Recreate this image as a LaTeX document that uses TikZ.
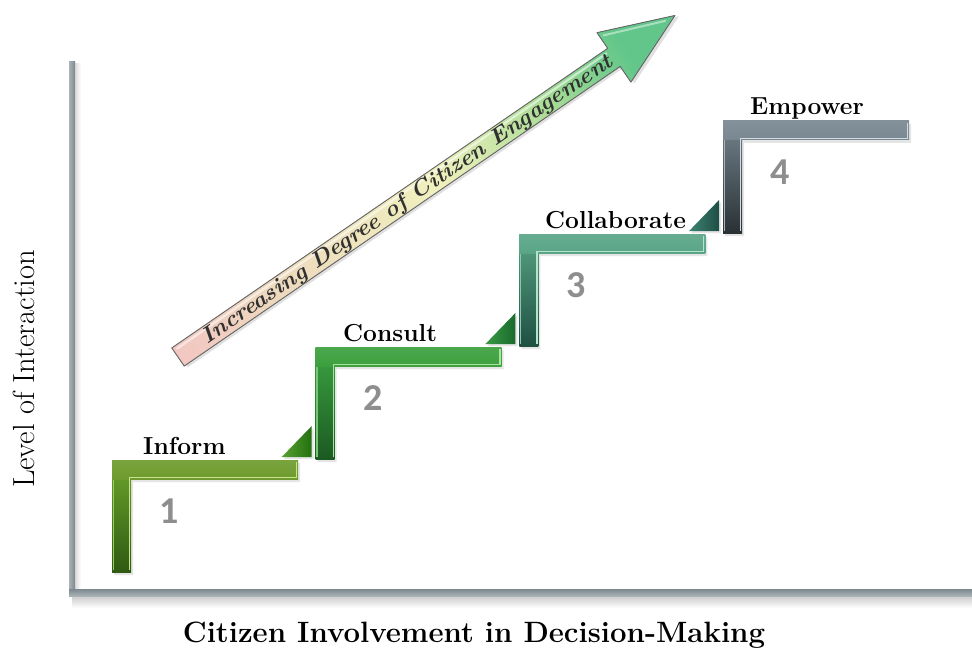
\documentclass[tikz,border=0pt]{standalone}
\usepackage{fontspec}
\newfontfamily\numfont{Carlito}
\usetikzlibrary{calc}
\definecolor{axc}{HTML}{8E989E}
\definecolor{axd}{HTML}{7C878E}
\definecolor{axl}{HTML}{A9B2B7}
% step colours
\definecolor{sAh}{HTML}{6E9B2D}\definecolor{sAt}{HTML}{6BA52C}\definecolor{sAb}{HTML}{2F5A12}\definecolor{sAl}{HTML}{C8E48C}
\definecolor{sBh}{HTML}{3CA03E}\definecolor{sBt}{HTML}{3CA442}\definecolor{sBb}{HTML}{1B5A22}\definecolor{sBl}{HTML}{A8E4A0}
\definecolor{sCh}{HTML}{5AA587}\definecolor{sCt}{HTML}{58A484}\definecolor{sCb}{HTML}{1E5042}\definecolor{sCl}{HTML}{B4E4CC}
\definecolor{sDh}{HTML}{788791}\definecolor{sDt}{HTML}{73838C}\definecolor{sDb}{HTML}{2A3135}\definecolor{sDl}{HTML}{D0DCE2}
% triangle colours
\definecolor{tAl}{HTML}{5AA032}\definecolor{tAr}{HTML}{22700F}
\definecolor{tBl}{HTML}{3A9A44}\definecolor{tBr}{HTML}{1A6A2C}
\definecolor{tCl}{HTML}{3E8474}\definecolor{tCr}{HTML}{1E4E44}
% arrow colours
\definecolor{apA}{HTML}{F3C6C2}
\definecolor{apB}{HTML}{EDD6BE}
\definecolor{apY}{HTML}{F0F0BE}
\definecolor{apG}{HTML}{AADC96}
\definecolor{apH}{HTML}{62C68A}
\definecolor{numc}{HTML}{8E8E8E}
\definecolor{txtc}{HTML}{303030}
\pgfdeclarehorizontalshading{arrowshade}{100bp}{color(0bp)=(apA); color(25bp)=(apA); color(33bp)=(apB); color(51bp)=(apY); color(62bp)=(apG); color(70bp)=(apH); color(100bp)=(apH)}
\tikzset{
  lbl/.style={anchor=base west, inner sep=0pt, text=black, font=\bfseries\fontsize{24.6}{26}\selectfont},
  numst/.style={inner sep=0pt, text=numc, font=\numfont\bfseries\fontsize{38}{40}\selectfont},
  arrline/.style={draw=black!60, line width=0.9pt, line join=round},
  arrtext/.style={inner sep=0pt, text=txtc, font=\bfseries\itshape},
}
\begin{document}
\begin{tikzpicture}[x=1pt,y=-1pt]
\useasboundingbox (0,0) rectangle (972,650);
\fill[white] (0,0) rectangle (972,650);

% ---------- axes ----------
\shade[top color=black!22, bottom color=white] (72,595) rectangle (972,608);
\shade[left color=black!14, right color=white] (75,64) rectangle (81,595);
\shade[left color=axl, right color=axd] (69,62) rectangle (75,596);
\shade[top color=axd, bottom color=axl] (69,589) rectangle (972,596);

% ---------- stairs ----------
\foreach \i/\hc/\vt/\vb/\hl in {0/sAh/sAt/sAb/sAl, 1/sBh/sBt/sBb/sBl, 2/sCh/sCt/sCb/sCl, 3/sDh/sDt/sDb/sDl}{
  \pgfmathsetmacro\xo{112+203.7*\i}
  \pgfmathsetmacro\yt{460-113*\i}
  % soft shadow
  \fill[black!10] (\xo+2,\yt+3) -- ++(186,0) -- ++(0,19) -- ++(-167,0) -- ++(0,93) -- ++(-19,0) -- cycle;
  % vertical bar
  \shade[top color=\vt, bottom color=\vb] (\xo,\yt) rectangle (\xo+19,\yt+112);
  \draw[\hl!55!\vt, line width=1.2pt] (\xo+1.2,\yt+19) -- (\xo+1.2,\yt+110);
  % horizontal bar
  \shade[top color=\hc!92!white, bottom color=\hc] (\xo,\yt) rectangle (\xo+186,\yt+19);
  % inner highlight
  \draw[\hl, line width=1.4pt, line join=miter] (\xo+184.3,\yt+2) -- (\xo+184.3,\yt+17.6) -- (\xo+17.6,\yt+17.6) -- (\xo+17.6,\yt+110);
  % number
  \node[numst] (num\i) at (\xo+57,\yt+51) {\the\numexpr\i+1\relax};
}

% ---------- riser triangles ----------
\foreach \i/\cl/\cr in {0/tAl/tAr, 1/tBl/tBr, 2/tCl/tCr}{
  \pgfmathsetmacro\xr{112+203.7*(\i+1)-4}
  \pgfmathsetmacro\yb{460-113*\i-3}
  \fill[black!10] (\xr-28,\yb+2) -- (\xr+2,\yb+2) -- (\xr+2,\yb-29) -- cycle;
  \shade[left color=\cl, right color=\cr] (\xr-30,\yb) -- (\xr,\yb) -- (\xr,\yb-31) -- cycle;
}

% ---------- step labels ----------
\node[lbl] (inform) at (143,454) {Inform};
\node[lbl] (consult) at (343,341) {Consult};
\node[lbl] (collab) at (545,228) {Collaborate};
\node[lbl] (empower) at (750,115) {Empower};

% ---------- axis labels ----------
\node[rotate=90, inner sep=0pt, font=\fontsize{30.5}{32}\selectfont] (ylab) at (24,369) {Level of Interaction};
\node[anchor=base, inner sep=0pt, font=\bfseries\fontsize{29.4}{31}\selectfont] (xlab) at (474,642) {Citizen Involvement in Decision-Making};

% ---------- engagement arrow ----------
\begin{scope}[transform canvas={shift={(178,357)}, rotate=34.5}]
  \fill[black!12] (2,-9) -- (531,-9) -- (531,-28) -- (606,3) -- (531,33) -- (531,14) -- (2,14) -- cycle;
  \fill[shading=arrowshade] (0,-11) -- (529,-11) -- (529,-30) -- (603,0) -- (529,30) -- (529,11) -- (0,11) -- cycle;
  \draw[white, opacity=0.55, line width=2.2pt, line cap=round] (4,-7.5) -- (525,-7.5);
  \draw[white, opacity=0.45, line width=2pt, line cap=round] (533,-24) -- (592,-1);
  \draw[arrline] (0,-11) -- (529,-11) -- (529,-30) -- (603,0) -- (529,30) -- (529,11) -- (0,11) -- cycle;
  \node[arrtext] (atext) at (278,1) {\resizebox{494pt}{15.5pt}{Increasing Degree of Citizen Engagement}};
\end{scope}
\end{tikzpicture}
\end{document}
